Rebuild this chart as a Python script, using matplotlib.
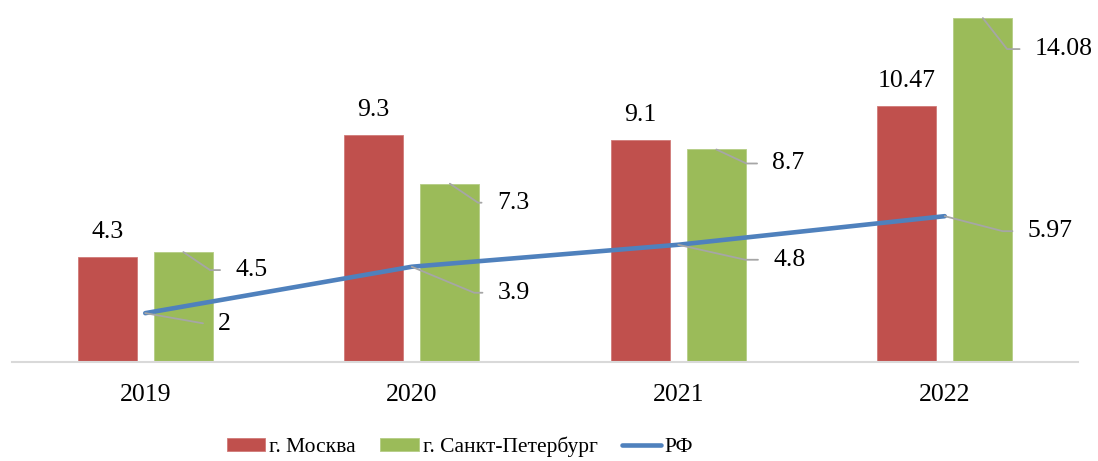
import matplotlib
matplotlib.use("Agg")
import matplotlib.pyplot as plt
import numpy as np

years = ["2019", "2020", "2021", "2022"]
moscow = [4.3, 9.3, 9.1, 10.47]
spb = [4.5, 7.3, 8.7, 14.08]
rf = [2, 3.9, 4.8, 5.97]
series_names = ["г. Москва", "г. Санкт-Петербург", "РФ"]

# layout of data-label leaders (pixel offsets of text left/center, leader angle)
spb_label_px = [(52, 18, -34), (47, 19, -34), (56, 14, -25), (52, 31, -52)]
rf_label_px = [(73, 11, -10), (86, 26, -22.6), (95, 15, -12.6), (83, 15, -14.5)]

plt.rcParams['font.family'] = ['Liberation Serif', 'DejaVu Serif']
FS = 18.5
LFS = 15.5
RED, GREEN, BLUE = "#C0504D", "#9BBB59", "#4F81BD"
GRAY = "#A6A6A6"

W, H = 1098, 461
fig = plt.figure(figsize=(W / 100, H / 100), dpi=100)
ax = fig.add_axes([12 / W, 99 / H, 1066 / W, 362 / H])

x = np.arange(len(years))
bw = 0.221
off = 0.143
b1 = ax.bar(x - off, moscow, bw, color=RED, edgecolor="#D07A78", linewidth=0.6, zorder=2)
b2 = ax.bar(x + off, spb, bw, color=GREEN, edgecolor="#B5CD85", linewidth=0.6, zorder=2)
l1, = ax.plot(x, rf, color=BLUE, lw=3.3, solid_capstyle='round', zorder=4)

ax.set_xlim(-0.5, len(years) - 0.5)
ax.set_ylim(0, 14.82)
for s in ["top", "right", "left"]:
    ax.spines[s].set_visible(False)
ax.spines["bottom"].set_color("#D9D9D9")
ax.spines["bottom"].set_linewidth(1.5)
ax.set_yticks([])
ax.set_xticks(x)
ax.set_xticklabels(years, fontsize=FS)
ax.tick_params(axis='x', length=0, pad=16)

px = 0.72
for i, v in enumerate(moscow):
    ax.annotate(f"{v:g}", (x[i] - off, v), xytext=(0, 25 * px), textcoords="offset points",
                ha="center", va="center", fontsize=FS, zorder=5)

def leader(xv, yv, lab, spec):
    dx, dy, ang = spec
    ax.annotate(lab, (xv, yv), xytext=(dx * px, -dy * px), textcoords="offset points",
                ha="left", va="center", fontsize=FS, zorder=5,
                arrowprops=dict(arrowstyle="-", color=GRAY, lw=1.3, shrinkA=9, shrinkB=0,
                                relpos=(0, 0.5),
                                connectionstyle=f"angle,angleA=0,angleB={ang},rad=0"))

for i, v in enumerate(spb):
    leader(x[i] + off, v, f"{v:g}", spb_label_px[i])
for i, v in enumerate(rf):
    leader(x[i], v, f"{v:g}", rf_label_px[i])

fig.legend([b1, b2, l1], series_names, loc="center", bbox_to_anchor=(460 / W, 14 / H), ncol=3,
           frameon=False, fontsize=LFS, handlelength=1.77, handleheight=0.56, handletextpad=0.2,
           columnspacing=1.15, borderaxespad=0, borderpad=0)

fig.savefig("out.png", dpi=100)
